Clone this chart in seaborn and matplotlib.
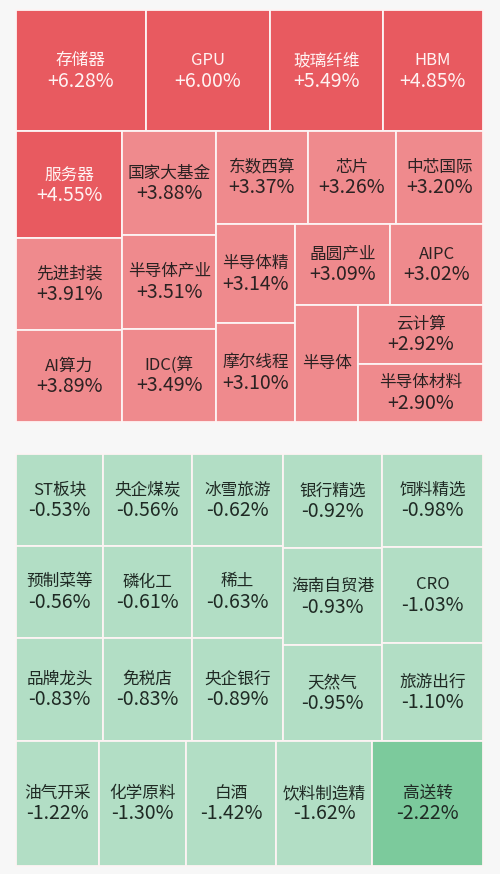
import matplotlib
matplotlib.use("Agg")
import matplotlib.pyplot as plt
from matplotlib.patches import Rectangle
import seaborn as sns

# ---------------- data ----------------
gain_names = ["存储器", "GPU", "玻璃纤维", "HBM", "服务器", "先进封装", "AI算力",
              "国家大基金", "半导体产业", "IDC(算", "东数西算", "芯片", "中芯国际",
              "半导体精", "摩尔线程", "晶圆产业", "AIPC", "半导体", "云计算", "半导体材料"]
gain_pct = [6.28, 6.00, 5.49, 4.85, 4.55, 3.91, 3.89, 3.88, 3.51, 3.49, 3.37, 3.26,
            3.20, 3.14, 3.10, 3.09, 3.02, 2.96, 2.92, 2.90]
gain_hidden_pct = ["半导体"]   # label shown without its percentage

loser_names = ["ST板块", "预制菜等", "品牌龙头", "央企煤炭", "磷化工", "免税店",
               "冰雪旅游", "稀土", "央企银行", "银行精选", "海南自贸港", "天然气",
               "饲料精选", "CRO", "旅游出行", "油气开采", "化学原料", "白酒",
               "饮料制造精", "高送转"]
loser_pct = [-0.53, -0.56, -0.83, -0.56, -0.61, -0.83, -0.62, -0.63, -0.89, -0.92,
             -0.93, -0.95, -0.98, -1.03, -1.10, -1.22, -1.30, -1.42, -1.62, -2.22]
# tile weights (relative areas)
loser_size = [80.0, 80.0, 89.6, 81.9, 81.9, 91.7, 83.7, 83.7, 93.7, 93.1, 96.0,
              95.0, 93.9, 97.0, 99.0, 103.8, 108.8, 112.5, 120.0, 138.8]

# ---------------- treemap structure ----------------
# ("h", kids): side by side, ("v", kids): stacked; ints index the data lists
gain_tree = ("v", [("h", [0, 1, 2, 3]),
                   ("h", [("v", [4, 5, 6]),
                          ("v", [7, 8, 9]),
                          ("v", [("h", [10, 11, 12]),
                                 ("h", [("v", [13, 14]),
                                        ("v", [("h", [15, 16]),
                                               ("h", [17, ("v", [18, 19])])])])])])])
loser_tree = ("v", [("h", [("v", [0, 1, 2]), ("v", [3, 4, 5]), ("v", [6, 7, 8]),
                           ("v", [9, 10, 11]), ("v", [12, 13, 14])]),
                    ("h", [15, 16, 17, 18, 19])])


def total(node, sizes):
    if isinstance(node, int):
        return sizes[node]
    return sum(total(k, sizes) for k in node[1])


def layout(node, x, y, w, h, sizes, out):
    if isinstance(node, int):
        out[node] = (x, y, w, h)
        return
    orient, kids = node
    tots = [total(k, sizes) for k in kids]
    s = sum(tots)
    pos = x if orient == "h" else y
    for k, t in zip(kids, tots):
        if orient == "h":
            dw = w * t / s
            layout(k, pos, y, dw, h, sizes, out)
            pos += dw
        else:
            dh = h * t / s
            layout(k, x, pos, w, dh, sizes, out)
            pos += dh


# ---------------- style ----------------
sns.set_theme(style="white")
plt.rcParams["font.family"] = ["Noto Sans CJK SC", "DejaVu Sans"]

BG = "#f7f7f7"
RED_DARK, RED_LIGHT = "#e85a60", "#ef8a8d"
GREEN_LIGHT, GREEN_DARK = "#b2dec5", "#7cca9c"

fig = plt.figure(figsize=(5, 8.74), dpi=100, facecolor=BG)
ax = fig.add_axes([0, 0, 1, 1])
ax.set_facecolor(BG)
ax.set_xlim(0, 500)
ax.set_ylim(874, 0)
ax.axis("off")


def draw(names, pcts, sizes, tree, box, color_fn, text_fn, hidden=()):
    rects = {}
    layout(tree, *box, sizes, rects)
    for i, name in enumerate(names):
        x, y, w, h = rects[i]
        ax.add_patch(Rectangle((x, y), w, h, facecolor=color_fn(pcts[i]),
                               edgecolor="#fdf4f4", linewidth=1.3))
        cx, cy = x + w / 2, y + h / 2
        tc = text_fn(pcts[i])
        if name in hidden:
            ax.text(cx, cy, name, ha="center", va="center", fontsize=12, color=tc)
        else:
            ax.text(cx, cy - 10, name, ha="center", va="center", fontsize=12, color=tc)
            ax.text(cx, cy + 10.5, f"{pcts[i]:+.2f}%", ha="center", va="center",
                    fontsize=14, color=tc)


draw(gain_names, gain_pct, gain_pct, gain_tree, (16, 10, 467, 412),
     lambda v: RED_DARK if v >= 4.5 else RED_LIGHT,
     lambda v: "#fff3f3" if v >= 4.5 else "#2b2222",
     hidden=gain_hidden_pct)

draw(loser_names, loser_pct, loser_size, loser_tree, (16, 454, 467, 412),
     lambda v: GREEN_DARK if v <= -2 else GREEN_LIGHT,
     lambda v: "#1f2a24")

fig.savefig("out.png", dpi=100, facecolor=BG)
